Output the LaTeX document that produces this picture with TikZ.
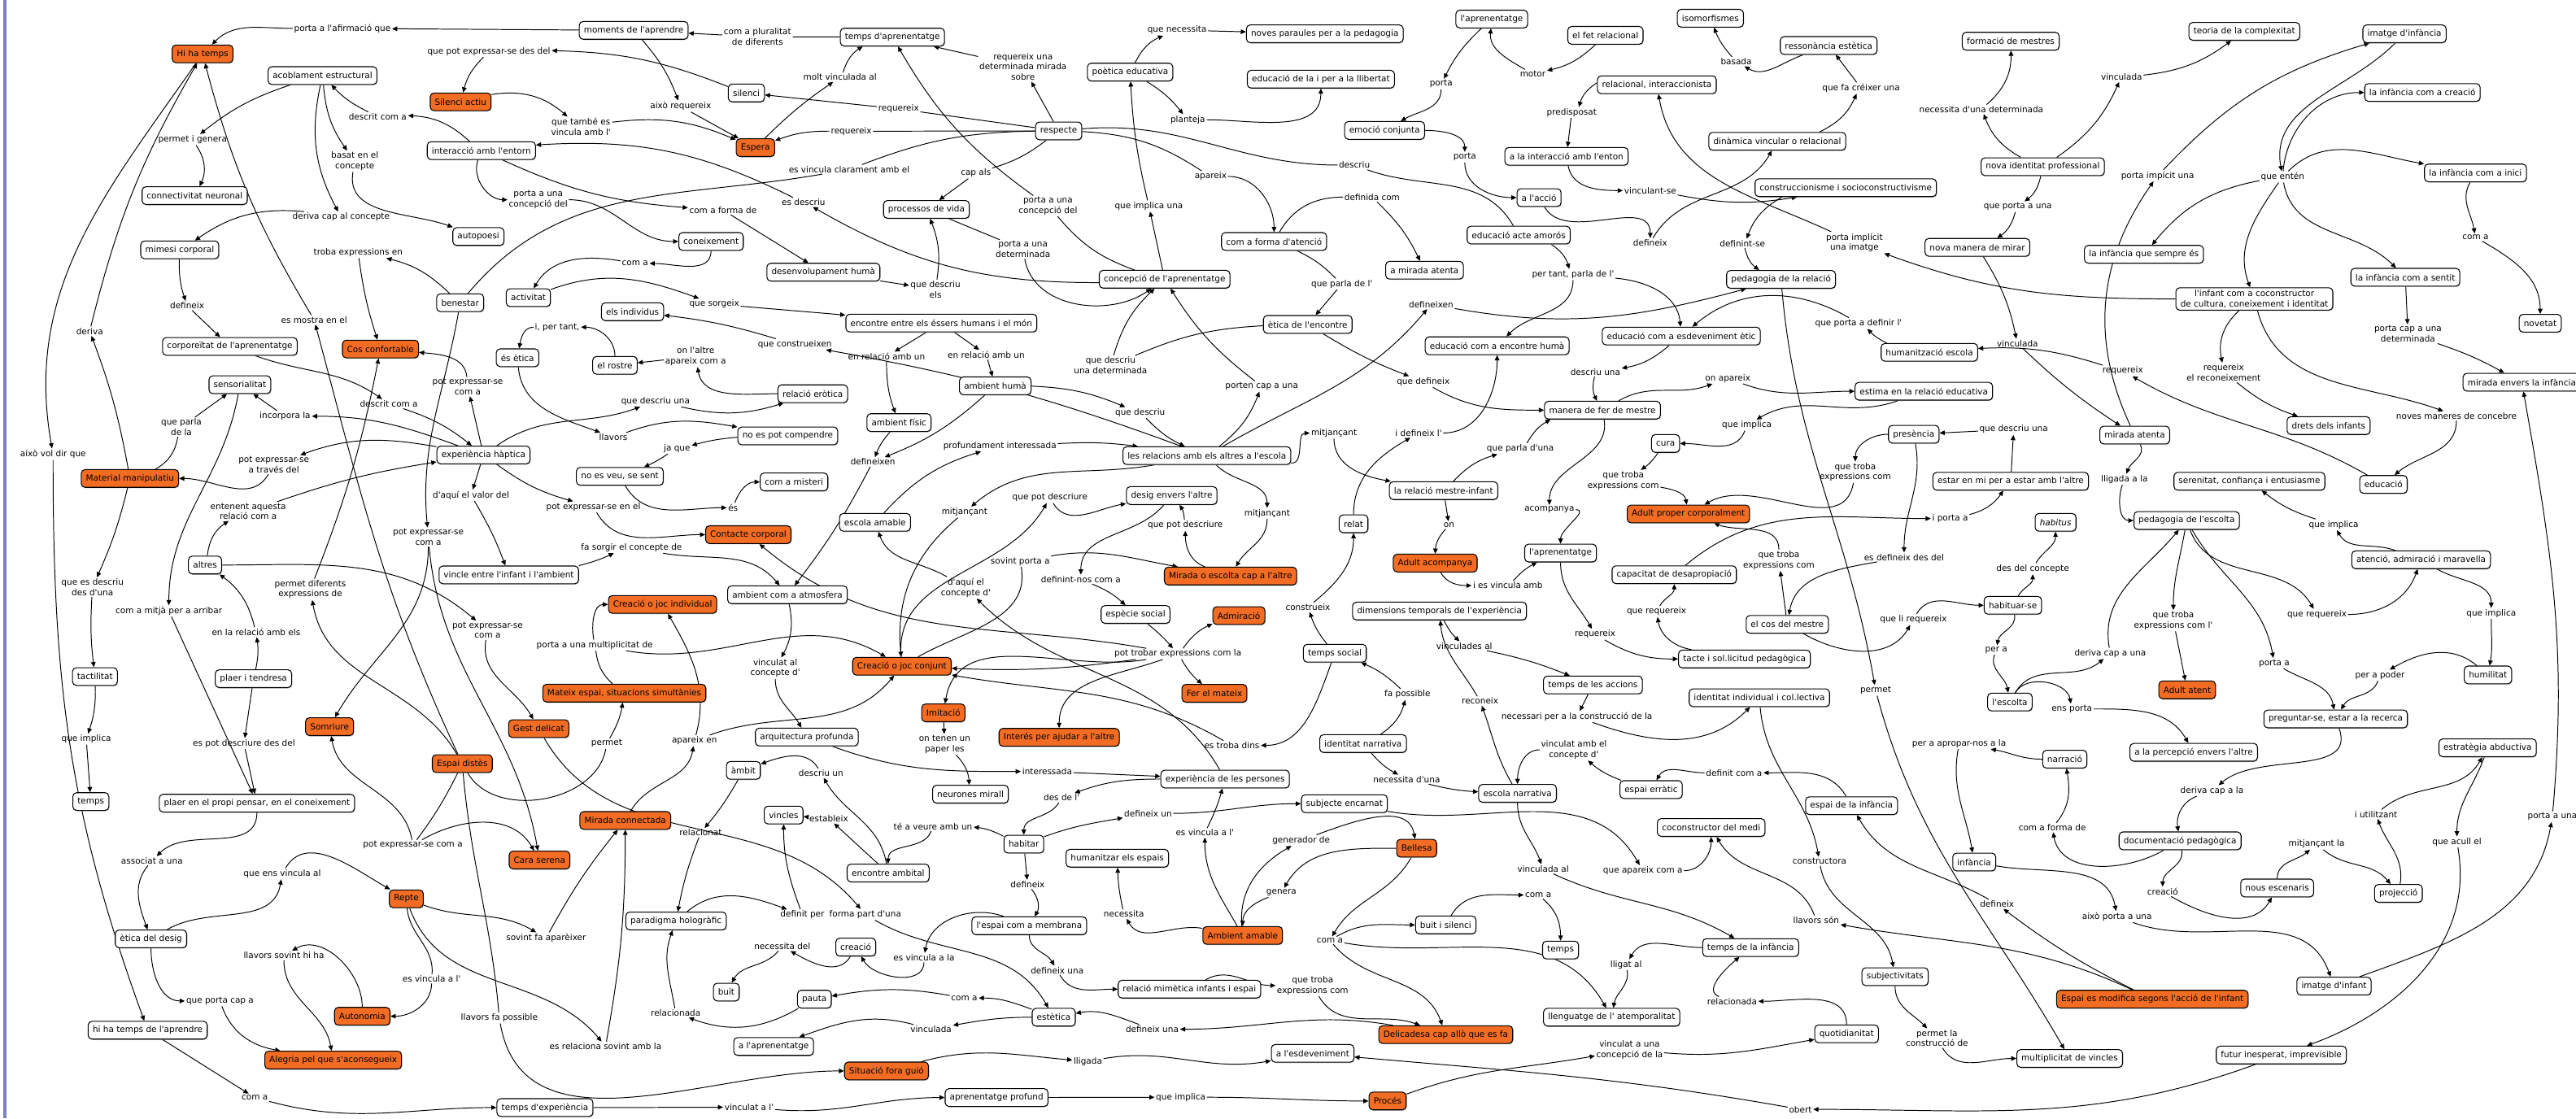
\documentclass[tikz,border=0pt]{standalone}
\usepackage{fontspec}
\setmainfont{DejaVu Sans}[Ligatures=TeXOff]
\usetikzlibrary{arrows.meta,shadows}
\definecolor{orng}{RGB}{242,108,36}
\definecolor{barc}{RGB}{125,128,192}
\pgfdeclarelayer{bg}
\pgfsetlayers{bg,main}
\tikzset{
 every node/.style={font=\fontsize{5.9}{7.1}\selectfont},
 cc/.style={draw=black, line width=0.6pt, rounded corners=2.6pt, fill=white, inner xsep=3.2pt, inner ysep=0.6pt, minimum height=12.3pt, align=center, drop shadow={shadow xshift=0.5pt,shadow yshift=-0.6pt,fill=black!40}},
 oc/.style={cc, fill=orng},
 lk/.style={inner sep=0.8pt, align=center},
 ar/.style={line width=0.55pt, -{Triangle[length=3.6pt,width=3.2pt]}},
 ln/.style={line width=0.55pt},
}
\begin{document}
\begin{tikzpicture}[x=0.04cm,y=-0.04cm]
\useasboundingbox (0,0) rectangle (1568,681);
% ---------- concepts ----------
\node[oc] (hht) at (123.3,32.8) {Hi ha temps};
\node[cc] (mda) at (385.7,18.5) {moments de l'aprendre};
\node[cc] (acob) at (196.3,46.0) {acoblament estructural};
\node[oc] (sact) at (280.4,62.0) {Silenci actiu};
\node[cc] (iae) at (293.0,91.7) {interacció amb l'entorn};
\node[cc] (conn) at (118.5,119.1) {connectivitat neuronal};
\node[cc] (auto) at (291.2,144.0) {autopoesi};
\node[cc] (mim) at (109.4,152.1) {mimesi corporal};
\node[cc] (act) at (321.6,181.2) {activitat};
\node[cc] (ben) at (280.1,184.3) {benestar};
\node[cc] (ind) at (385,189.8) {els individus};
\node[cc] (corp) at (139.9,210.9) {corporeïtat de l'aprenentatge};
\node[oc] (cosc) at (231.6,212.5) {Cos confortable};
\node[cc] (etic) at (315.0,217.8) {és ètica};
\node[cc] (ros) at (374.3,222.4) {el rostre};
\node[cc] (tda) at (543.2,22.6) {temps d'aprenentatge};
\node[cc] (npp) at (806.4,20.6) {noves paraules per a la pedagogia};
\node[cc] (poe) at (687.9,43.9) {poètica educativa};
\node[cc] (edl) at (804,48.2) {educació de la i per a la llibertat};
\node[cc] (sil) at (454.3,56.6) {silenci};
\node[cc] (resp) at (644.4,79.7) {respecte};
\node[oc] (esp) at (459.8,89.9) {Espera};
\node[cc] (proc) at (563.9,127.5) {processos de vida};
\node[cc] (cfa) at (775.5,147.0) {com a forma d'atenció};
\node[cc] (coneix) at (432.8,147.0) {coneixement};
\node[cc] (desh) at (501.2,165.7) {desenvolupament humà};
\node[cc] (cda) at (708.9,170.0) {concepció de l'aprenentatge};
\node[cc] (enc) at (573.0,196.7) {encontre entre els éssers humans i el món};
\node[cc] (ete) at (796,197.5) {ètica de l'encontre};
\node[cc] (lapt) at (908.0,11.6) {l'aprenentatge};
\node[cc] (fet) at (977.2,21.5) {el fet relacional};
\node[cc] (iso) at (1041.1,11.1) {isomorfismes};
\node[cc] (ress) at (1113.1,27.7) {ressonància estètica};
\node[cc] (rel) at (1008.5,51.6) {relacional, interaccionista};
\node[cc] (emo) at (842.8,79.4) {emoció conjunta};
\node[cc] (din) at (1081.8,86.0) {dinàmica vincular o relacional};
\node[cc] (lia) at (953.5,95.2) {a la interacció amb l'enton};
\node[cc] (cons) at (1123.5,114.3) {construccionisme i socioconstructivisme};
\node[cc] (acc) at (936.8,120.3) {a l'acció};
\node[cc] (eaa) at (924.4,143.1) {educació acte amorós};
\node[cc] (mat) at (867.1,164.5) {a mirada atenta};
\node[cc] (pdr) at (1084.1,170.1) {pedagogia de la relació};
\node[cc] (eee) at (1023.4,204.6) {educació com a esdeveniment ètic};
\node[cc] (ech) at (911.3,210.5) {educació com a encontre humà};
\node[cc] (hum) at (1174.4,214.5) {humanització escola};
\node[cc] (fdm) at (1223.9,25.1) {formació de mestres};
\node[cc] (tcx) at (1366.1,19.1) {teoria de la complexitat};
\node[cc] (imi) at (1463.6,20.6) {imatge d'infància};
\node[cc] (icc) at (1474.5,56.3) {la infància com a creació};
\node[cc] (nip) at (1243.4,101.5) {nova identitat professional};
\node[cc] (ici) at (1506.8,105.3) {la infància com a inici};
\node[cc] (nmm) at (1203.6,150.6) {nova manera de mirar};
\node[cc] (ise) at (1305.0,154.8) {la infància que sempre és};
\node[cc] (ics) at (1464.1,168.8) {la infància com a sentit};
\node[cc, inner ysep=1.6pt] (icoc) at (1372.2,182.0) {l'infant com a coconstructor\\de cultura, coneixement i identitat};
\node[cc] (nov) at (1546.2,196.8) {novetat};
\node[cc] (mei) at (1535,232.7) {mirada envers la infància};
\node[cc] (sens) at (146.0,234.2) {sensorialitat};
\node[cc] (exh) at (294.3,277.0) {experiència hàptica};
\node[cc] (nvs) at (377.3,290.0) {no es veu, se sent};
\node[oc] (mman) at (79.1,291.3) {Material manipulatiu};
\node[cc] (alt) at (124.8,344.0) {altres};
\node[cc] (vinc) at (309.7,350.0) {vincle entre l'infant i l'ambient};
\node[oc] (cji) at (403.3,368.0) {Creació o joc individual};
\node[cc] (tact) at (57.8,411.9) {tactilitat};
\node[cc] (plt) at (154.3,413.2) {plaer i tendresa};
\node[oc] (mesp) at (380,422.0) {Mateix espai, situacions simultànies};
\node[oc] (som) at (200.6,442.4) {Somriure};
\node[oc] (gest) at (327.9,443.6) {Gest delicat};
\node[cc] (rero) at (494.7,239.7) {relació eròtica};
\node[cc] (ahum) at (605.8,234.9) {ambient humà};
\node[cc] (afis) at (547.2,257.3) {ambient físic};
\node[cc] (npc) at (479.5,265.4) {no es pot compendre};
\node[cc] (lrel) at (734.6,277.4) {les relacions amb els altres a l'escola};
\node[cc] (mist) at (483.3,293.4) {com a misteri};
\node[cc] (desig) at (713.2,301.7) {desig envers l'altre};
\node[cc] (eam) at (532.6,318.0) {escola amable};
\node[oc] (ccorp) at (455.5,325.5) {Contacte corporal};
\node[oc] (meca) at (749,350.7) {Mirada o escolta cap a l'altre};
\node[cc] (aca) at (479.3,362.1) {ambient com a atmosfera};
\node[cc] (esoc) at (691.2,374.1) {espècie social};
\node[oc] (adm) at (754.1,374.8) {Admiració};
\node[oc] (cjc) at (549.0,405.6) {Creació o joc conjunt};
\node[oc] (fem) at (739.2,422.1) {Fer el mateix};
\node[oc] (imit) at (574.2,434.0) {Imitació};
\node[cc] (arq) at (491.1,448.7) {arquitectura profunda};
\node[oc] (iaj) at (644.7,448.9) {Interés per ajudar a l'altre};
\node[cc] (est) at (1171,238.2) {estima en la relació educativa};
\node[cc] (mfm) at (975.4,249.7) {manera de fer de mestre};
\node[cc] (pres) at (1164.9,264.4) {presència};
\node[cc] (cura) at (1013.8,270.0) {cura};
\node[cc] (rmi) at (878.7,298.7) {la relació mestre-infant};
\node[oc] (apc) at (1027.7,312.9) {Adult proper corporalment};
\node[cc] (relat) at (823.9,318.9) {relat};
\node[cc] (lap2) at (949.9,336.7) {l'aprenentatge};
\node[oc] (aac) at (873.6,342.8) {Adult acompanya};
\node[cc] (cdes) at (1019.1,349.9) {capacitat de desapropiació};
\node[cc] (dtem) at (876.2,372.0) {dimensions temporals de l'experiència};
\node[cc] (cdm) at (1087.9,380.1) {el cos del mestre};
\node[cc] (tsoc) at (812.5,397.7) {temps social};
\node[cc] (tac) at (1061.8,401.2) {tacte i sol.licitud pedagògica};
\node[cc] (tacc) at (969.6,417.0) {temps de les accions};
\node[cc] (iic) at (1070.9,424.8) {identitat individual i col.lectiva};
\node[cc] (inar) at (829.7,452.7) {identitat narrativa};
\node[cc] (mat2) at (1299.4,264.9) {mirada atenta};
\node[cc] (drets) at (1417.4,259.1) {drets dels infants};
\node[cc] (estar) at (1223.9,293.0) {estar en mi per a estar amb l'altre};
\node[cc] (seren) at (1369.2,293.0) {serenitat, confiança i entusiasme};
\node[cc] (educ) at (1450.8,294.9) {educació};
\node[cc] (habi) at (1251.2,318.0) {\itshape habitus};
\node[cc] (pesc) at (1331.0,316.9) {pedagogia de l'escolta};
\node[cc] (aten) at (1473.7,340.8) {atenció, admiració i maravella};
\node[cc] (habs) at (1225.2,368.5) {habituar-se};
\node[cc] (humil) at (1514.4,410.9) {humilitat};
\node[oc] (aat) at (1331.3,420.0) {Adult atent};
\node[cc] (lesc) at (1223.4,427.4) {l'escolta};
\node[cc] (preg) at (1421.7,437.7) {preguntar-se, estar a la recerca};
\node[cc] (eabd) at (1514.2,455.3) {estratègia abductiva};
\node[cc] (perc) at (1335.3,458.0) {a la percepció envers l'altre};
\node[cc] (temps1) at (55.3,488.0) {temps};
\node[cc] (ppp) at (156.4,489.0) {plaer en el propi pensar, en el coneixement};
\node[oc] (edis) at (281.4,464.9) {Espai distès};
\node[oc] (mcon) at (380.6,499.5) {Mirada connectada};
\node[oc] (cser) at (328.4,523.6) {Cara serena};
\node[oc] (rep) at (247.3,547.2) {Repte};
\node[cc] (phol) at (411.5,560.7) {paradigma hologràfic};
\node[cc] (edes) at (91.9,571.6) {ètica del desig};
\node[oc] (auton) at (220.5,618.7) {Autonomia};
\node[cc] (hhta) at (89.9,627.2) {hi ha temps de l'aprendre};
\node[oc] (aleg) at (202.8,645.4) {Alegria pel que s'aconsegueix};
\node[cc] (texp) at (331.7,674.3) {temps d'experiència};
\node[cc] (dlp) at (745.7,474.3) {experiència de les persones};
\node[cc] (amb) at (452.5,469.0) {àmbit};
\node[cc] (neur) at (590.7,483.5) {neurones mirall};
\node[cc] (vincl) at (477.0,496.2) {vincles};
\node[cc] (habt) at (623.2,513.9) {habitar};
\node[cc] (humes) at (680.1,522.5) {humanitzar els espais};
\node[cc] (enam) at (540.6,531.5) {encontre ambital};
\node[cc] (esme) at (626.5,563.6) {l'espai com a membrana};
\node[oc] (aam) at (756.4,569.5) {Ambient amable};
\node[cc] (crea) at (520.9,576.6) {creació};
\node[cc] (buit) at (442.1,604.0) {buit};
\node[cc] (rmim) at (724.0,602.2) {relació mimètica infants i espai};
\node[cc] (pauta) at (495.7,608.3) {pauta};
\node[cc] (estt) at (641.4,619.3) {estètica};
\node[cc] (lapr3) at (470.9,637.1) {a l'aprenentatge};
\node[cc] (lesd) at (799,641.3) {a l'esdeveniment};
\node[oc] (sfg) at (539.6,652.0) {Situació fora guió};
\node[cc] (aprf) at (606.6,668.2) {aprenentatge profund};
\node[cc] (enar) at (923.7,483.0) {escola narrativa};
\node[cc] (eerr) at (1005.0,480.7) {espai erràtic};
\node[cc] (edli) at (1127.0,490.5) {espai de la infància};
\node[cc] (senc) at (818.3,489.3) {subjecte encarnat};
\node[cc] (cmed) at (1041.6,503.8) {coconstructor del medi};
\node[oc] (bell) at (862.3,516.4) {Bellesa};
\node[cc] (bis) at (880.0,563.1) {buit i silenci};
\node[cc] (temps2) at (949.9,578.4) {temps};
\node[cc] (tdli) at (1065.6,576.9) {temps de la infància};
\node[cc] (subj) at (1153.5,594.6) {subjectivitats};
\node[cc] (llat) at (981.0,619.3) {llenguatge de l' atemporalitat};
\node[cc] (quot) at (1124.0,629.4) {quotidianitat};
\node[oc] (deli) at (880.0,629.9) {Delicadesa cap allò que es fa};
\node[oc] (proces) at (844.6,670.3) {Procés};
\node[cc] (narr) at (1256.8,462.2) {narració};
\node[cc] (docp) at (1327.0,511.9) {documentació pedagògica};
\node[cc] (infa) at (1201.7,524.8) {infància};
\node[cc] (nesc) at (1386.1,540.6) {nous escenaris};
\node[cc] (proj) at (1459.9,543.9) {projecció};
\node[cc] (imin) at (1420.7,600.3) {imatge d'infant};
\node[oc] (emod) at (1310.1,608.3) {Espai es modifica segons l'acció de l'infant};
\node[cc] (mult) at (1259.8,644.4) {multiplicitat de vincles};
\node[cc] (futur) at (1388.6,642.3) {futur inesperat, imprevisible};
% ---------- linking phrases ----------
\node[lk] (l1) at (208.4,17.3) {porta a l'afirmació que};
\node[lk] (l2) at (297.6,31.4) {que pot expressar-se des del};
\node[lk] (l3) at (229.9,71.0) {descrit com a};
\node[lk] (l4) at (353.6,77.1) {que també es\\vincula amb l'};
\node[lk] (l5) at (117.2,85.0) {permet i genera};
\node[lk] (l6) at (216.0,98.2) {basat en el\\concepte};
\node[lk] (l7) at (327.6,121.6) {porta a una\\concepció del};
\node[lk] (l8) at (207.6,132.2) {deriva cap al concepte};
\node[lk] (l9) at (218.0,153.8) {troba expressions en};
\node[lk] (l10) at (386.5,160.4) {com a};
\node[lk] (l11) at (113.9,186.1) {defineix};
\node[lk] (l12) at (191.2,194.7) {es mostra en el};
\node[lk] (l13) at (339.2,199.2) {i, per tant,};
\node[lk] (l14) at (54.6,201.6) {deriva};
\node[lk] (l15) at (461.1,22.4) {com a pluralitat\\de diferents};
\node[lk] (l16) at (622.7,40.6) {requereix una\\determinada mirada\\sobre};
\node[lk] (l17) at (716.5,18.3) {que necessita};
\node[lk] (l18) at (511.3,47.0) {molt vinculada al};
\node[lk] (l19) at (414.3,64.7) {això requereix};
\node[lk] (l20) at (547.0,66.3) {requereix};
\node[lk] (l21) at (723.0,72.9) {planteja};
\node[lk] (l22) at (518.2,79.9) {requereix};
\node[lk] (l23) at (516.9,103.1) {es vincula clarament amb el};
\node[lk] (l24) at (594.0,105.4) {cap als};
\node[lk] (l25) at (736.9,107.4) {apareix};
\node[lk] (l26) at (489.1,123.1) {es descriu};
\node[lk] (l27) at (637.9,125.4) {porta a una\\concepció del};
\node[lk] (l28) at (699.3,125.4) {que implica una};
\node[lk] (l29) at (440.1,127.9) {com a forma de};
\node[lk] (l30) at (622.7,151.8) {porta a una\\determinada};
\node[lk] (l31) at (569.4,176.2) {que descriu\\els};
\node[lk] (l32) at (434.8,185.1) {que sorgeix};
\node[lk] (l33) at (483.8,209.6) {que construeixen};
\node[lk] (l34) at (539.6,217.1) {en relació amb un};
\node[lk] (l35) at (600.3,216.0) {en relació amb un};
\node[lk] (l36) at (423.4,217.0) {on l'altre\\apareix com a};
\node[lk] (l37) at (676.0,222.4) {que descriu\\una determinada};
\node[lk] (l38) at (1056.8,37.5) {basada};
\node[lk] (l39) at (933.0,45.0) {motor};
\node[lk] (l40) at (877.2,51.2) {porta};
\node[lk] (l41) at (1132.8,53.6) {que fa créixer una};
\node[lk] (l42) at (956.7,68.5) {predisposat};
\node[lk] (l43) at (891.6,95.7) {porta};
\node[lk] (l44) at (824.4,100.5) {descriu};
\node[lk] (l45) at (1004.5,116.0) {vinculant-se};
\node[lk] (l46) at (835.2,120.0) {definida com};
\node[lk] (l47) at (1060.6,148.2) {definint-se};
\node[lk] (l48) at (1004.5,147.8) {defineix};
\node[lk] (l49) at (1128.8,147.7) {porta implícit\\una imatge};
\node[lk] (l50) at (957.5,167.1) {per tant, parla de l'};
\node[lk] (l51) at (816.8,172.9) {que parla de l'};
\node[lk] (l52) at (871.1,185.3) {defineixen};
\node[lk] (l53) at (1131.3,196.8) {que porta a definir l'};
\node[lk] (l54) at (971.1,226.4) {descriu una};
\node[lk] (l55) at (1291.4,47.0) {vinculada};
\node[lk] (l56) at (1206,66.5) {necessita d'una determinada};
\node[lk] (l57) at (1313.3,106.9) {porta impícit una};
\node[lk] (l58) at (1389.4,107.7) {que entén};
\node[lk] (l59) at (1228.2,125.9) {que porta a una};
\node[lk] (l60) at (1506.8,144.5) {com a};
\node[lk] (l61) at (1465.7,203.3) {porta cap a una\\determinada};
\node[lk] (l62) at (1228.0,209.1) {vinculada};
\node[lk] (l63) at (1292.1,225.7) {requereix};
\node[lk] (l64) at (1353.5,226.8) {requereix\\el reconeixement};
\node[lk] (l65) at (284.7,235.4) {pot expressar-se\\com a};
\node[lk] (l66) at (236.7,245.9) {descrit com a};
\node[lk] (l67) at (173.5,253.4) {incorpora la};
\node[lk] (l68) at (110.4,260.0) {que parla\\de la};
\node[lk] (l69) at (373.3,266.2) {llavors};
\node[lk] (l70) at (399,244.3) {que descriu una};
\node[lk] (l71) at (32.3,276.5) {això vol dir que};
\node[lk] (l72) at (166.7,282.9) {pot expressar-se\\a través del};
\node[lk] (l73) at (286.7,301.5) {d'aquí el valor del};
\node[lk] (l74) at (361.2,308.6) {pot expressar-se en el};
\node[lk] (l75) at (151.1,311.3) {entenent aquesta\\relació com a};
\node[lk] (l76) at (260.7,327.0) {pot expressar-se\\com a};
\node[lk] (l77) at (384.4,333.4) {fa sorgir el concepte de};
\node[lk] (l78) at (56.3,357.5) {que es descriu\\des d'una};
\node[lk] (l79) at (188.9,358.8) {permet diferents\\expressions de};
\node[lk] (l80) at (102.8,372.0) {com a mitjà per a arribar};
\node[lk] (l81) at (296.8,383.7) {pot expressar-se\\com a};
\node[lk] (l82) at (155.9,384.9) {en la relació amb els};
\node[lk] (l83) at (362,392.8) {porta a una multiplicitat de};
\node[lk] (l84) at (52.5,450.0) {que implica};
\node[lk] (l85) at (148.5,452.7) {es pot descriure des del};
\node[lk] (l86) at (369.3,452.7) {permet};
\node[lk] (l87) at (694.0,251.2) {que descriu};
\node[lk] (l88) at (768,235.2) {porten cap a una};
\node[lk] (l89) at (412.1,273.0) {ja que};
\node[lk] (l90) at (608.6,271.5) {profundament interessada};
\node[lk] (l91) at (531.3,281.2) {defineixen};
\node[lk] (l92) at (446.2,309.1) {és};
\node[lk] (l93) at (639.1,302.9) {que pot descriure};
\node[lk] (l94) at (587.1,311.8) {mitjançant};
\node[lk] (l95) at (771.3,312.6) {mitjançant};
\node[lk] (l96) at (721.5,319.8) {que pot descriure};
\node[lk] (l97) at (621.0,341.8) {sovint porta a};
\node[lk] (l98) at (587.9,357.8) {d'aquí el\\concepte d'};
\node[lk] (l99) at (657.9,352.7) {definint-nos com a};
\node[lk] (l100) at (471.9,406.8) {vinculat al\\concepte d'};
\node[lk] (l101) at (717.0,398.1) {pot trobar expressions com la};
\node[lk] (l102) at (422.7,450.9) {apareix en};
\node[lk] (l103) at (575,453.2) {on tenen un\\paper les};
\node[lk] (l104) at (749.8,453.8) {es troba dins};
\node[lk] (l105) at (866.3,232.4) {que defineix};
\node[lk] (l106) at (1051.7,230.3) {on apareix};
\node[lk] (l107) at (1063.3,258.8) {que implica};
\node[lk] (l108) at (812.0,263.7) {mitjançant};
\node[lk] (l109) at (863.5,263.6) {i defineix l'};
\node[lk] (l110) at (925.4,273.2) {que parla d'una};
\node[lk] (l111) at (988.1,292.6) {que troba\\expressions com};
\node[lk] (l112) at (1129.3,287.5) {que troba\\expressions com};
\node[lk] (l113) at (943.1,310.3) {acompanya};
\node[lk] (l114) at (882.0,319.7) {on};
\node[lk] (l115) at (1187,315.7) {i porta a};
\node[lk] (l116) at (1159,339.2) {es defineix des del};
\node[lk] (l117) at (1082.8,341.1) {que troba\\expressions com};
\node[lk] (l118) at (917.8,356.5) {i es vincula amb};
\node[lk] (l119) at (796.1,369.7) {construeix};
\node[lk] (l120) at (1008.3,372.3) {que requereix};
\node[lk] (l121) at (1164.7,377.1) {que li requereix};
\node[lk] (l122) at (970.9,386.2) {requereix};
\node[lk] (l123) at (891.3,393.3) {vinculades al};
\node[lk] (l124) at (1141.7,420.3) {permet};
\node[lk] (l125) at (856.7,422.8) {fa possible};
\node[lk] (l126) at (900.9,426.8) {reconeix};
\node[lk] (l127) at (959.8,436.3) {necessari per a la construcció de la};
\node[lk] (l128) at (958,456.5) {vinculat amb el\\concepte d'};
\node[lk] (l129) at (1192.5,452.7) {per a apropar-nos a la};
\node[lk] (l130) at (1225.7,261.4) {que descriu una};
\node[lk] (l131) at (1495.2,253.2) {noves maneres de concebre};
\node[lk] (l132) at (1293.1,291.8) {lligada a la};
\node[lk] (l133) at (1420.5,319.4) {que implica};
\node[lk] (l134) at (1237.3,346.2) {des del concepte};
\node[lk] (l135) at (1410.3,374.1) {que requereix};
\node[lk] (l136) at (1516.4,373.5) {que implica};
\node[lk] (l137) at (1322.9,377.9) {que troba\\expressions com l'};
\node[lk] (l138) at (1215.1,395.7) {per a};
\node[lk] (l139) at (1284.5,397.7) {deriva cap a una};
\node[lk] (l140) at (1384.3,403.8) {porta a};
\node[lk] (l141) at (1448.7,411.1) {per a poder};
\node[lk] (l142) at (1261.1,431.6) {ens porta};
\node[lk] (l143) at (251.3,514.5) {pot expressar-se com a};
\node[lk] (l144) at (92.5,524.1) {associat a una};
\node[lk] (l145) at (171.8,532.0) {que ens vincula al};
\node[lk] (l146) at (332.4,571.1) {sovint fa aparèixer};
\node[lk] (l147) at (172.8,581.7) {llavors sovint hi ha};
\node[lk] (l148) at (262.7,595.9) {es vincula a l'};
\node[lk] (l149) at (133.9,609.4) {que porta cap a};
\node[lk] (l150) at (303.9,619.7) {llavors fa possible};
\node[lk] (l151) at (368.6,637) {es relaciona sovint amb la};
\node[lk] (l152) at (155.1,668.2) {com a};
\node[lk] (l153) at (637.4,469.7) {interessada};
\node[lk] (l154) at (499.7,470.7) {descriu un};
\node[lk] (l155) at (646.2,485.7) {des de l'};
\node[lk] (l156) at (504.5,498.4) {estableix};
\node[lk] (l157) at (698.8,495.2) {defineix un};
\node[lk] (l158) at (567.9,503.0) {té a veure amb un};
\node[lk] (l159) at (426.5,507.0) {relacionat};
\node[lk] (l160) at (733.4,507.0) {es vincula a l'};
\node[lk] (l161) at (792,511.6) {generador de};
\node[lk] (l162) at (625.5,538.5) {defineix};
\node[lk] (l163) at (780,543.4) {genera};
\node[lk] (l164) at (488.4,557.0) {definit per};
\node[lk] (l165) at (526.7,556.8) {forma part d'una};
\node[lk] (l166) at (684.1,556.5) {necessita};
\node[lk] (l167) at (476.2,576.1) {necessita del};
\node[lk] (l168) at (562.4,583.0) {es vincula a la};
\node[lk] (l169) at (643.5,590.8) {defineix una};
\node[lk] (l170) at (799,600) {que troba\\expressions com};
\node[lk] (l171) at (586.9,607.6) {com a};
\node[lk] (l172) at (411.3,616.7) {relacionada};
\node[lk] (l173) at (566.7,626.6) {vinculada};
\node[lk] (l174) at (701.3,626.6) {defineix una};
\node[lk] (l175) at (662.2,646.2) {lligada};
\node[lk] (l176) at (718.7,668.0) {que implica};
\node[lk] (l177) at (456.0,674.1) {vinculat a l'};
\node[lk] (l178) at (856.2,474.5) {necessita d'una};
\node[lk] (l179) at (1055.5,470.5) {definit com a};
\node[lk] (l180) at (1107.5,524.4) {constructora};
\node[lk] (l181) at (939.3,529.1) {vinculada al};
\node[lk] (l182) at (1000.0,530.1) {que apareix com a};
\node[lk] (l183) at (936.3,544.9) {com a};
\node[lk] (l184) at (1105.5,560.3) {llavors són};
\node[lk] (l185) at (809.5,572.5) {com a};
\node[lk] (l186) at (989.8,587.3) {lligat al};
\node[lk] (l187) at (1054.3,609.6) {relacionada};
\node[lk] (l188) at (991.9,639.1) {vinculat a una\\concepció de la};
\node[lk] (l189) at (1179,632) {permet la\\construcció de};
\node[lk] (l190) at (1095.9,675.4) {obert};
\node[lk] (l191) at (1346.4,481.4) {deriva cap a la};
\node[lk] (l192) at (1446.2,495.7) {i utilitzant};
\node[lk] (l193) at (1553.6,497.2) {porta a una};
\node[lk] (l194) at (1249.2,503.8) {com a forma de};
\node[lk] (l195) at (1495.5,512.6) {que acull el};
\node[lk] (l196) at (1410.1,513.9) {mitjançant la};
\node[lk] (l197) at (1316.4,542.8) {creació};
\node[lk] (l198) at (1215.6,550.5) {defineix};
\node[lk] (l199) at (1288.6,558.1) {això porta a una};
% ---------- connectors ----------
\begin{pgfonlayer}{bg}
\fill[barc] (1.8,0) rectangle (4.2,681);
\draw[ar] (mda) -- (l1);
\draw[ar] (l1) to[out=180,in=45] (hht);
\draw[ln] (tda) -- (l15);
\draw[ar] (l15) -- (mda);
\draw[ar] (mda) to[bend left=10] (l19);
\draw[ar] (l19) -- (esp);
\draw[ar] (sil) to[bend right=10] (l2);
\draw[ar] (l2) to[bend right=15] (sact);
\draw[ar] (sact) to[bend left=25] (l4);
\draw[ar] (l4) to[bend left=15] (esp);
\draw[ar] (acob) to[bend right=10] (l5);
\draw[ar] (l5) to[bend left=30] (conn);
\draw[ar] (acob) to[bend right=15] (l6);
\draw[ar] (l6) to[out=-100,in=160] (auto);
\draw[ar] (acob) to[bend right=20] (l8);
\draw[ar] (l8) to[bend right=20] (mim);
\draw[ar] (iae) to[bend right=20] (l3);
\draw[ar] (l3) to[bend left=10] (acob);
\draw[ar] (l26) to[bend right=15] (iae);
\draw[ar] (iae) to[out=-110,in=180] (l7);
\draw[ar] (l7) to[out=0,in=180] (coneix);
\draw[ar] (iae) to[bend right=10] (l29);
\draw[ar] (l29) -- (desh);
\draw[ar] (coneix) to[out=-90,in=0] (l10);
\draw[ar] (l10) to[out=170,in=60] (act);
\draw[ar] (act) to[out=20,in=160] (l32);
\draw[ar] (l32) -- (enc);
\draw[ar] (ben) to[bend right=15] (l9);
\draw[ar] (l9) to[bend right=5] (cosc);
\draw[ar] (mim) to[bend right=10] (l11);
\draw[ar] (l11) -- (corp);
\draw[ar] (edis) to[out=115,in=-75] (l12);
\draw[ar] (l12) to[bend left=8] (hht);
\draw[ar] (edis) to[out=120,in=-80] (l79);
\draw[ar] (l79) to[bend right=5] (cosc);
\draw[ar] (mman) to[bend right=5] (l14);
\draw[ar] (l14) to[bend left=8] (hht);
\draw[ar] (hht) to[out=235,in=100] (l71);
\draw[ar] (l71) to[out=-90,in=110] (hhta);
\draw[ar] (ros) to[out=90,in=0] (l13);
\draw[ar] (l13) to[out=180,in=80] (etic);
\draw[ar] (l36) -- (ros);
\draw[ar] (rero) to[out=180,in=-80] (l36);
\draw[ar] (lrel) to[bend right=5] (l33);
\draw[ar] (l33) to[bend right=5] (ind);
\draw[ar] (esp) to[bend left=5] (l18);
\draw[ar] (l18) to[bend left=20] (tda);
\draw[ln] (resp) -- (l20);
\draw[ar] (l20) -- (sil);
\draw[ln] (resp) -- (l22);
\draw[ar] (l22) to[bend right=10] (esp);
\draw[ar] (resp) -- (l16);
\draw[ar] (l16) -- (tda);
\draw[ln] (resp) to[bend left=10] (l24);
\draw[ar] (l24) -- (proc);
\draw[ln] (resp) to[bend left=15] (l25);
\draw[ar] (l25) to[out=0,in=90] (cfa);
\draw[ln] (resp) to[bend right=10] (l23);
\draw[ln] (l23) to[out=190,in=50] (ben);
\draw[ln] (resp) to[out=5,in=180] (l44);
\draw[ln] (l44) to[out=-20,in=120] (eaa);
\draw[ar] (poe) to[bend left=20] (l17);
\draw[ar] (l17) -- (npp);
\draw[ar] (poe) to[bend left=10] (l21);
\draw[ar] (l21) to[out=0,in=-90] (edl);
\draw[ar] (cda) -- (l28);
\draw[ar] (l28) to[bend left=5] (poe);
\draw[ln] (cda) to[bend left=15] (l27);
\draw[ar] (l27) to[bend left=12] (tda);
\draw[ln] (proc) -- (l30);
\draw[ar] (l30) to[out=-80,in=215] (cda);
\draw[ar] (desh) -- (l31);
\draw[ar] (l31) to[bend right=15] (proc);
\draw[ar] (cda) to[bend left=15] (l26);
\draw[ar] (enc) -- (l34);
\draw[ar] (l34) to[bend right=10] (afis);
\draw[ar] (enc) -- (l35);
\draw[ar] (l35) -- (ahum);
\draw[ln] (ete) to[bend right=10] (l37);
\draw[ar] (l37) to[bend left=15] (cda);
\draw[ar] (lrel) to[bend right=15] (l88);
\draw[ar] (l88) to[bend left=10] (cda);
\draw[ar] (lapt) to[bend right=10] (l40);
\draw[ar] (l40) to[out=-90,in=30] (emo);
\draw[ar] (fet) to[bend left=15] (l39);
\draw[ar] (l39) to[out=150,in=-95] (lapt);
\draw[ar] (emo) to[out=0,in=90] (l43);
\draw[ar] (l43) to[out=-90,in=180] (acc);
\draw[ar] (acc) to[out=-60,in=90] (l48);
\draw[ar] (l48) to[out=60,in=-120] (din);
\draw[ar] (rel) to[bend right=20] (l42);
\draw[ar] (l42) -- (lia);
\draw[ar] (lia) to[out=-80,in=180] (l45);
\draw[ar] (l45) to[bend right=10] (cons);
\draw[ar] (din) to[bend right=20] (l41);
\draw[ar] (l41) -- (ress);
\draw[ar] (ress) to[out=200,in=-30] (l38);
\draw[ar] (l38) to[bend left=10] (iso);
\draw[ar] (cons) to[bend right=20] (l47);
\draw[ar] (l47) to[bend right=20] (pdr);
\draw[ar] (icoc) to[out=180,in=-20] (l49);
\draw[ar] (l49) to[out=155,in=-80] (rel);
\draw[ar] (eaa) to[bend left=20] (l50);
\draw[ar] (l50) to[out=-90,in=45] (ech);
\draw[ar] (l50) to[out=-5,in=95] (eee);
\draw[ln] (cfa) to[out=60,in=180] (l46);
\draw[ar] (l46) to[bend left=10] (mat);
\draw[ln] (cfa) to[bend left=10] (l51);
\draw[ar] (l51) -- (ete);
\draw[ar] (lrel) to[out=30,in=-130] (l52);
\draw[ar] (l52) to[out=-10,in=195] (pdr);
\draw[ar] (ete) to[bend right=5] (l105);
\draw[ar] (l105) to[out=-30,in=180] (mfm);
\draw[ar] (hum) to[bend left=10] (l53);
\draw[ar] (l53) to[out=150,in=40] (eee);
\draw[ar] (eee) to[bend left=15] (l54);
\draw[ar] (l54) to[bend right=20] (mfm);
\draw[ar] (pdr) to[out=-85,in=100] (l124);
\draw[ar] (l124) to[out=-75,in=120] (mult);
\draw[ar] (nip) to[bend left=20] (l56);
\draw[ar] (l56) to[bend right=25] (fdm);
\draw[ar] (nip) to[bend right=15] (l55);
\draw[ar] (l55) to[bend right=15] (tcx);
\draw[ar] (nip) to[bend left=20] (l59);
\draw[ar] (l59) to[bend left=20] (nmm);
\draw[ar] (nmm) to[bend left=10] (l62);
\draw[ar] (l62) to[bend right=5] (mat2);
\draw[ar] (mat2) to[out=115,in=-125] (l57);
\draw[ar] (l57) to[bend left=15] (imi);
\draw[ar] (imi) to[out=225,in=100] (l58);
\draw[ar] (l58) to[out=85,in=180] (icc);
\draw[ar] (l58) to[out=45,in=170] (ici);
\draw[ar] (l58) to[bend right=20] (ise);
\draw[ar] (l58) to[out=-125,in=110] (icoc);
\draw[ar] (l58) to[out=-80,in=135] (ics);
\draw[ar] (ici) to[out=-120,in=100] (l60);
\draw[ar] (l60) to[out=-30,in=90] (nov);
\draw[ar] (ics) -- (l61);
\draw[ar] (l61) to[bend left=5] (mei);
\draw[ar] (icoc) to[bend right=30] (l64);
\draw[ar] (l64) to[bend right=10] (drets);
\draw[ar] (icoc) to[out=-75,in=160] (l131);
\draw[ar] (l131) to[out=-90,in=40] (educ);
\draw[ar] (educ) to[out=150,in=-30] (l63);
\draw[ar] (l63) to[bend right=10] (hum);
\draw[ar] (exh) -- (l65);
\draw[ar] (l65) to[out=95,in=-5] (cosc);
\draw[ar] (corp) to[out=-20,in=145] (l66);
\draw[ar] (l66) to[bend left=10] (exh);
\draw[ar] (exh) to[out=160,in=0] (l67);
\draw[ar] (l67) -- (sens);
\draw[ar] (exh) to[out=170,in=20] (l72);
\draw[ar] (l72) to[out=-120,in=0] (mman);
\draw[ln] (mman) to[bend right=25] (l68);
\draw[ar] (l68) -- (sens);
\draw[ar] (sens) to[out=-100,in=90] (l80);
\draw[ar] (l80) -- (ppp);
\draw[ar] (exh) to[out=35,in=200] (l70);
\draw[ar] (l70) to[bend right=15] (rero);
\draw[ar] (etic) to[out=-85,in=160] (l69);
\draw[ar] (l69) to[out=20,in=170] (npc);
\draw[ar] (npc) to[bend right=5] (l89);
\draw[ar] (l89) to[bend left=5] (nvs);
\draw[ar] (nvs) to[out=-60,in=180] (l92);
\draw[ar] (l92) to[out=70,in=180] (mist);
\draw[ar] (exh) to[bend right=10] (l74);
\draw[ar] (l74) to[out=-60,in=180] (ccorp);
\draw[ar] (exh) -- (l73);
\draw[ar] (l73) to[bend left=5] (vinc);
\draw[ar] (vinc) to[bend right=5] (l77);
\draw[ar] (l77) to[out=-10,in=130] (aca);
\draw[ar] (alt) to[bend left=25] (l75);
\draw[ar] (l75) to[bend left=5] (exh);
\draw[ar] (plt) to[bend right=10] (l82);
\draw[ar] (l82) to[bend right=20] (alt);
\draw[ar] (plt) -- (l85);
\draw[ar] (l85) -- (ppp);
\draw[ar] (alt) to[out=0,in=140] (l81);
\draw[ar] (l81) to[out=-100,in=120] (gest);
\draw[ar] (mman) to[bend left=5] (l78);
\draw[ar] (l78) to[bend right=5] (tact);
\draw[ar] (tact) to[bend left=10] (l84);
\draw[ar] (l84) -- (temps1);
\draw[ar] (ben) to[out=-100,in=95] (l76);
\draw[ar] (l76) to[out=-90,in=60] (som);
\draw[ar] (l76) to[out=-85,in=100] (cser);
\draw[ln] (edis) to[bend left=5] (l143);
\draw[ar] (l143) to[out=30,in=120] (cser);
\draw[ar] (l143) to[out=100,in=-80] (som);
\draw[ln] (edis) to[out=-85,in=95] (l150);
\draw[ar] (l150) to[out=-80,in=180] (sfg);
\draw[ln] (edis) to[out=-60,in=-100] (l86);
\draw[ar] (l86) to[bend right=10] (mesp);
\draw[ln] (mesp) to[bend left=20] (l83);
\draw[ar] (l83) to[out=100,in=180] (cji);
\draw[ar] (l83) to[out=-10,in=150] (cjc);
\draw[ar] (gest) to[out=-60,in=130] (l165);
\draw[ar] (l165) to[out=-30,in=120] (estt);
\draw[ar] (ahum) to[bend left=10] (l87);
\draw[ar] (l87) to[bend right=10] (lrel);
\draw[ar] (ahum) to[bend left=10] (l91);
\draw[ar] (afis) to[bend right=10] (l91);
\draw[ar] (l91) to[bend left=5] (aca);
\draw[ar] (eam) to[bend left=15] (l90);
\draw[ar] (l90) to[bend left=5] (lrel);
\draw[ar] (lrel) to[out=190,in=40] (l94);
\draw[ar] (l94) to[out=220,in=95] (cjc);
\draw[ar] (lrel) to[out=-45,in=90] (l95);
\draw[ar] (l95) to[out=-90,in=60] (meca);
\draw[ar] (meca) to[out=160,in=-90] (l96);
\draw[ar] (l96) to[bend right=15] (desig);
\draw[ar] (cjc) to[out=95,in=-120] (l93);
\draw[ar] (l93) to[out=-60,in=190] (desig);
\draw[ln] (cjc) to[out=30,in=-80] (l97);
\draw[ar] (l97) to[out=10,in=170] (meca);
\draw[ar] (desig) to[out=-130,in=90] (l99);
\draw[ar] (l99) to[bend left=10] (esoc);
\draw[ar] (esoc) to[bend left=5] (l101);
\draw[ar] (l101) to[bend right=10] (fem);
\draw[ar] (l101) to[bend left=15] (adm);
\draw[ar] (l101) to[out=190,in=80] (imit);
\draw[ar] (l101) to[out=200,in=90] (iaj);
\draw[ar] (l101) to[bend left=5] (cjc);
\draw[ar] (l101) to[out=170,in=-40] (ccorp);
\draw[ar] (dlp) to[out=120,in=-45] (l98);
\draw[ar] (l98) to[out=150,in=-70] (eam);
\draw[ar] (tsoc) to[out=-110,in=0] (l104);
\draw[ar] (l104) to[out=150,in=-10] (cjc);
\draw[ar] (aca) to[bend left=20] (l100);
\draw[ar] (l100) to[out=-90,in=120] (arq);
\draw[ar] (imit) -- (l103);
\draw[ar] (l103) to[bend left=20] (neur);
\draw[ar] (mcon) to[out=60,in=-100] (l102);
\draw[ar] (l102) to[out=75,in=-60] (cji);
\draw[ar] (l102) to[out=20,in=-130] (cjc);
\draw[ar] (mfm) to[out=30,in=200] (l106);
\draw[ar] (l106) to[out=-20,in=180] (est);
\draw[ar] (est) to[out=-160,in=30] (l107);
\draw[ar] (l107) to[out=-110,in=0] (cura);
\draw[ar] (cura) to[bend left=10] (l111);
\draw[ar] (l111) to[out=-10,in=100] (apc);
\draw[ar] (pres) to[out=180,in=90] (l112);
\draw[ar] (l112) to[out=-100,in=30] (apc);
\draw[ar] (pres) to[out=-80,in=90] (l116);
\draw[ar] (l116) to[out=190,in=80] (cdm);
\draw[ar] (cdm) -- (l117);
\draw[ar] (l117) to[out=90,in=-20] (apc);
\draw[ar] (cdm) to[out=-30,in=-120] (l121);
\draw[ar] (l121) to[out=60,in=180] (habs);
\draw[ar] (cdes) to[out=40,in=180] (l115);
\draw[ar] (l115) to[bend right=20] (estar);
\draw[ar] (mfm) to[out=-80,in=90] (l113);
\draw[ar] (l113) to[out=0,in=90] (lap2);
\draw[ar] (rmi) to[bend left=15] (l110);
\draw[ar] (l110) to[bend left=15] (mfm);
\draw[ar] (rmi) -- (l114);
\draw[ar] (l114) to[bend right=20] (aac);
\draw[ar] (aac) to[out=-60,in=180] (l118);
\draw[ar] (l118) to[bend left=10] (lap2);
\draw[ar] (lap2) to[out=-90,in=120] (l122);
\draw[ar] (l122) to[out=-30,in=180] (tac);
\draw[ar] (tac) to[out=170,in=-80] (l120);
\draw[ar] (l120) to[out=60,in=-90] (cdes);
\draw[ar] (lrel) to[out=-5,in=180] (l108);
\draw[ar] (l108) to[out=-90,in=170] (rmi);
\draw[ar] (relat) to[out=90,in=-150] (l109);
\draw[ar] (l109) to[out=0,in=-90] (ech);
\draw[ar] (tsoc) to[bend left=10] (l119);
\draw[ar] (l119) to[out=40,in=-90] (relat);
\draw[ar] (inar) to[bend right=20] (l125);
\draw[ar] (l125) to[bend right=10] (tsoc);
\draw[ar] (dtem) to[bend right=10] (l123);
\draw[ar] (l123) to[bend left=5] (tacc);
\draw[ar] (tacc) -- (l127);
\draw[ar] (l127) to[out=-20,in=-135] (iic);
\draw[ar] (enar) to[out=120,in=-70] (l126);
\draw[ar] (l126) to[out=120,in=-85] (dtem);
\draw[ar] (inar) to[bend right=10] (l178);
\draw[ar] (l178) to[bend right=5] (enar);
\draw[ar] (eerr) to[bend left=10] (l128);
\draw[ar] (l128) to[out=180,in=90] (enar);
\draw[ar] (enar) to[out=-90,in=110] (l181);
\draw[ar] (l181) to[out=-25,in=150] (tdli);
\draw[ar] (iic) to[out=-85,in=100] (l180);
\draw[ar] (l180) to[out=-80,in=100] (subj);
\draw[ar] (subj) to[out=-90,in=135] (l189);
\draw[ar] (l189) to[out=-60,in=180] (mult);
\draw[ar] (edli) to[out=120,in=0] (l179);
\draw[ar] (l179) to[out=180,in=60] (eerr);
\draw[ar] (emod) to[out=155,in=-10] (l184);
\draw[ar] (l184) to[out=110,in=-60] (cmed);
\draw[ar] (emod) to[bend left=5] (l198);
\draw[ar] (l198) to[out=150,in=-60] (edli);
\draw[ar] (senc) to[out=-10,in=120] (l182);
\draw[ar] (l182) to[out=0,in=-90] (cmed);
\draw[ar] (habt) to[out=20,in=190] (l157);
\draw[ar] (l157) to[out=0,in=180] (senc);
\draw[ar] (bell) to[out=240,in=60] (l185);
\draw[ar] (l185) to[out=30,in=180] (bis);
\draw[ar] (l185) to[out=-10,in=120] (llat);
\draw[ar] (l185) to[out=-50,in=110] (deli);
\draw[ar] (bis) to[out=60,in=180] (l183);
\draw[ar] (l183) to[out=-40,in=90] (temps2);
\draw[ar] (tdli) to[out=180,in=60] (l186);
\draw[ar] (l186) to[out=-80,in=80] (llat);
\draw[ar] (quot) to[out=90,in=0] (l187);
\draw[ar] (l187) to[out=160,in=220] (tdli);
\draw[ar] (proces) to[out=20,in=190] (l188);
\draw[ar] (l188) to[out=-5,in=190] (quot);
\draw[ar] (futur) to[out=-160,in=0] (l190);
\draw[ar] (l190) to[out=170,in=-5] (lesd);
\draw[ar] (aprf) -- (l176);
\draw[ar] (l176) to[out=0,in=180] (proces);
\draw[ar] (texp) to[out=0,in=180] (l177);
\draw[ar] (l177) to[out=-5,in=180] (aprf);
\draw[ar] (sfg) to[out=15,in=175] (l175);
\draw[ar] (l175) to[out=10,in=190] (lesd);
\draw[ar] (deli) to[out=170,in=0] (l174);
\draw[ar] (l174) to[out=160,in=10] (estt);
\draw[ar] (estt) to[out=180,in=10] (l173);
\draw[ar] (l173) to[out=165,in=20] (lapr3);
\draw[ar] (estt) to[out=160,in=0] (l171);
\draw[ar] (l171) to[out=170,in=10] (pauta);
\draw[ar] (pauta) to[out=-150,in=-20] (l172);
\draw[ar] (l172) to[out=100,in=-110] (phol);
\draw[ar] (phol) to[out=40,in=160] (l164);
\draw[ar] (l164) to[out=110,in=-90] (vincl);
\draw[ar] (amb) to[bend left=5] (l159);
\draw[ar] (l159) to[bend right=5] (phol);
\draw[ar] (enam) -- (l156);
\draw[ar] (l156) -- (vincl);
\draw[ar] (enam) to[out=100,in=-60] (l154);
\draw[ar] (l154) to[out=120,in=20] (amb);
\draw[ar] (habt) to[bend right=10] (l158);
\draw[ar] (l158) to[out=-110,in=90] (enam);
\draw[ar] (habt) -- (l162);
\draw[ar] (l162) to[out=-50,in=60] (esme);
\draw[ar] (esme) to[out=160,in=80] (l168);
\draw[ar] (l168) to[out=-90,in=-60] (crea);
\draw[ar] (crea) to[out=-120,in=-30] (l167);
\draw[ar] (l167) to[out=-130,in=60] (buit);
\draw[ar] (esme) to[out=-90,in=120] (l169);
\draw[ar] (l169) to[out=-60,in=180] (rmim);
\draw[ar] (rmim) to[out=30,in=180] (l170);
\draw[ar] (l170) to[out=-60,in=160] (deli);
\draw[ar] (dlp) to[out=180,in=20] (l155);
\draw[ar] (l155) to[out=-120,in=90] (habt);
\draw[ar] (aam) to[out=120,in=-90] (l160);
\draw[ar] (l160) to[bend right=5] (dlp);
\draw[ar] (aam) to[out=170,in=-60] (l166);
\draw[ar] (l166) to[bend left=5] (humes);
\draw[ar] (aam) to[out=95,in=-150] (l161);
\draw[ar] (l161) to[out=20,in=100] (bell);
\draw[ar] (bell) to[out=180,in=60] (l163);
\draw[ar] (l163) to[out=200,in=90] (aam);
\draw[ar] (arq) to[out=-20,in=180] (l153);
\draw[ar] (l153) -- (dlp);
\draw[ar] (edes) to[out=30,in=-100] (l145);
\draw[ar] (l145) to[out=60,in=150] (rep);
\draw[ar] (edes) to[out=-90,in=180] (l149);
\draw[ar] (l149) to[out=-70,in=170] (aleg);
\draw[ar] (ppp) to[out=-90,in=45] (l144);
\draw[ar] (l144) to[out=-130,in=110] (edes);
\draw[ar] (rep) to[out=-20,in=150] (l146);
\draw[ar] (l146) to[bend left=5] (mcon);
\draw[ar] (rep) to[out=-70,in=130] (l151);
\draw[ar] (l151) to[bend right=5] (mcon);
\draw[ln] (rep) to[out=-85,in=85] (l148);
\draw[ar] (l148) to[out=-90,in=0] (auton);
\draw[ar] (auton) to[out=90,in=30] (l147);
\draw[ar] (l147) to[out=-90,in=100] (aleg);
\draw[ar] (hhta) -- (l152);
\draw[ar] (l152) to[out=-15,in=180] (texp);
\draw[ar] (mat2) to[out=-60,in=70] (l132);
\draw[ar] (l132) to[out=-110,in=180] (pesc);
\draw[ar] (estar) -- (l130);
\draw[ar] (l130) -- (pres);
\draw[ar] (pesc) to[out=-100,in=90] (l137);
\draw[ar] (l137) -- (aat);
\draw[ar] (pesc) to[out=-70,in=120] (l135);
\draw[ar] (l135) to[out=0,in=-110] (aten);
\draw[ar] (pesc) to[out=-60,in=100] (l140);
\draw[ar] (l140) to[out=-30,in=100] (preg);
\draw[ar] (aten) to[out=160,in=-60] (l133);
\draw[ar] (l133) to[bend left=10] (seren);
\draw[ar] (aten) to[out=-30,in=90] (l136);
\draw[ar] (l136) to[out=-90,in=80] (humil);
\draw[ar] (humil) to[out=140,in=30] (l141);
\draw[ar] (l141) to[out=-110,in=60] (preg);
\draw[ar] (habs) to[out=60,in=-90] (l134);
\draw[ar] (l134) to[out=60,in=-90] (habi);
\draw[ar] (habs) to[out=-80,in=80] (l138);
\draw[ar] (l138) to[out=-110,in=100] (lesc);
\draw[ar] (lesc) to[out=60,in=-140] (l139);
\draw[ar] (l139) to[out=100,in=-130] (pesc);
\draw[ar] (lesc) to[out=60,in=100] (l142);
\draw[ar] (l142) to[out=0,in=120] (perc);
\draw[ar] (preg) to[out=-70,in=40] (l191);
\draw[ar] (l191) to[out=200,in=100] (docp);
\draw[ar] (docp) to[out=-150,in=-80] (l194);
\draw[ar] (l194) to[out=50,in=-80] (narr);
\draw[ar] (narr) to[out=180,in=-10] (l129);
\draw[ar] (l129) to[out=-100,in=100] (infa);
\draw[ar] (infa) to[out=-10,in=100] (l199);
\draw[ar] (l199) to[out=-20,in=110] (imin);
\draw[ar] (docp) to[out=-80,in=90] (l197);
\draw[ar] (l197) to[out=-30,in=-120] (nesc);
\draw[ar] (nesc) to[out=90,in=-140] (l196);
\draw[ar] (l196) to[out=-40,in=130] (proj);
\draw[ar] (proj) to[out=80,in=-70] (l192);
\draw[ar] (l192) to[out=40,in=-120] (eabd);
\draw[ar] (eabd) to[out=-110,in=90] (l195);
\draw[ar] (l195) to[out=-80,in=20] (futur);
\draw[ar] (imin) to[out=20,in=-100] (l193);
\draw[ar] (l193) to[out=85,in=-80] (mei);
\end{pgfonlayer}
\end{tikzpicture}
\end{document}
